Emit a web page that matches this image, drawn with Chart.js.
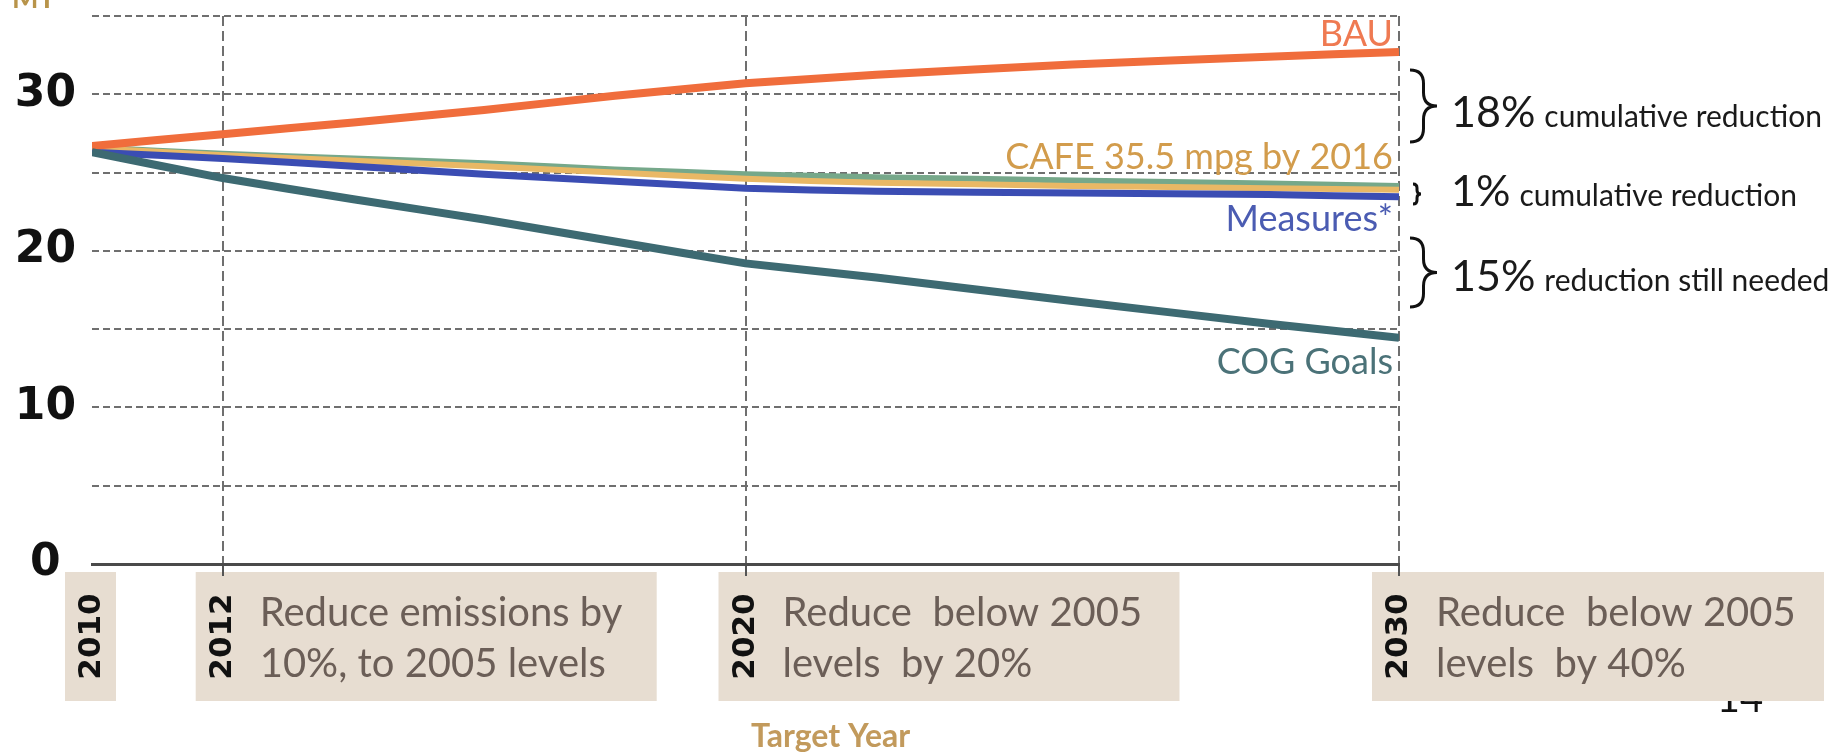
<!DOCTYPE html>
<html>
<head>
<meta charset="utf-8">
<script src="https://cdn.jsdelivr.net/npm/chart.js@4"></script>
<style>
  html, body { margin: 0; padding: 0; background: #fff; }
</style>
</head>
<body>
<canvas id="myChart" width="1839" height="754"></canvas>
<script>
// years the values were read at
const years = [2010, 2012, 2014, 2016, 2018, 2020, 2022, 2025, 2028, 2030];

const bau      = [26.7, 27.45, 28.2, 29.0, 29.9, 30.7, 31.25, 31.9, 32.4, 32.7];
const other    = [26.6, 26.2, 25.9, 25.6, 25.2, 24.9, 24.7, 24.5, 24.3, 24.15];
const cafe     = [26.55, 26.1, 25.75, 25.4, 25.0, 24.6, 24.35, 24.15, 24.0, 23.9];
const measures = [26.3, 25.9, 25.4, 24.9, 24.45, 24.0, 23.8, 23.7, 23.6, 23.45];
const cog      = [26.3, 24.65, 23.3, 22.0, 20.6, 19.2, 18.3, 16.8, 15.35, 14.45];

// x axis ticks and the target boxes under them
const tickYears = [2010, 2012, 2020, 2030];
const targetNotes = [
  [],
  ['Reduce emissions by', '10%, to 2005 levels'],
  ['Reduce  below 2005', 'levels  by 20%'],
  ['Reduce  below 2005', 'levels  by 40%']
];

// gaps on the right
const gapPercents = ['18%', '1%', '15%'];
const gapTexts = ['cumulative reduction', 'cumulative reduction', 'reduction still needed'];

function pts(arr) {
  return arr.map((v, i) => ({ x: years[i], y: v }));
}

function brace(ctx, x, y1, y2, w) {
  const ym = (y1 + y2) / 2, h = w / 2;
  const r = Math.min(h, (y2 - y1) / 4);
  ctx.beginPath();
  ctx.moveTo(x, y1);
  ctx.quadraticCurveTo(x + h, y1, x + h, y1 + r);
  ctx.lineTo(x + h, ym - r);
  ctx.quadraticCurveTo(x + h, ym, x + w, ym);
  ctx.quadraticCurveTo(x + h, ym, x + h, ym + r);
  ctx.lineTo(x + h, y2 - r);
  ctx.quadraticCurveTo(x + h, y2, x, y2);
  ctx.stroke();
}

const gridColor = '#6f6f6f';

const notesPlugin = {
  id: 'notes',
  beforeDraw(chart) {
    const ctx = chart.ctx, xs = chart.scales.x, area = chart.chartArea;
    const top = area.bottom + 8, h = 129;
    ctx.save();

    // page number, half hidden by the last box
    ctx.fillStyle = '#111';
    ctx.font = '40px Lato';
    ctx.textAlign = 'center';
    ctx.textBaseline = 'alphabetic';
    ctx.fillText('14', 1740, 712);

    tickYears.forEach((yr, i) => {
      const px = xs.getPixelForValue(yr);
      const lines = targetNotes[i];
      const left = px - 27;
      const w = lines.length ? Math.min(461, 1824 - left) : 51;
      ctx.fillStyle = '#e7ddd1';
      ctx.fillRect(left, top, w, h);

      ctx.save();
      ctx.translate(px, top + h / 2);
      ctx.rotate(-Math.PI / 2);
      ctx.font = 'bold 31px "DejaVu Sans"';
      ctx.fillStyle = '#111';
      ctx.textAlign = 'center';
      ctx.textBaseline = 'middle';
      ctx.fillText(String(yr), 0, 0);
      ctx.restore();

      ctx.font = '40px Lato';
      ctx.fillStyle = '#6b5e57';
      ctx.textAlign = 'left';
      ctx.textBaseline = 'alphabetic';
      lines.forEach((t, j) => ctx.fillText(t, px + 37, top + 54 + j * 51));
    });

    ctx.font = 'bold 32px Lato';
    ctx.fillStyle = '#c29a5c';
    ctx.textAlign = 'left';
    ctx.fillText('Target Year', 751, 747);

    // y axis unit, cut off by the top edge
    ctx.font = 'bold 28px Lato';
    ctx.fillStyle = '#b8944a';
    ctx.fillText('MT', 12, 8);
    ctx.restore();
  },
  afterDraw(chart) {
    const ctx = chart.ctx, ys = chart.scales.y, area = chart.chartArea;
    const right = area.right - 6;
    ctx.save();
    ctx.textAlign = 'right';
    ctx.textBaseline = 'alphabetic';
    ctx.font = '36px Lato';
    const labels = [
      ['BAU', '#ef7a52', bau, -6],
      ['CAFE 35.5 mpg by 2016', '#d29c4c', cafe, -21],
      ['Measures*', '#4b5cb2', measures, 34],
      ['COG Goals', '#4b7278', cog, 36]
    ];
    labels.forEach(([t, c, arr, off]) => {
      ctx.fillStyle = c;
      ctx.fillText(t, right, ys.getPixelForValue(arr[arr.length - 1]) + off);
    });

    // braces and gap text
    const bx = area.right + 11;
    ctx.strokeStyle = '#111';
    ctx.lineWidth = 3;
    brace(ctx, bx, 70, 142, 27);
    brace(ctx, bx + 3, 184, 204, 8);
    brace(ctx, bx, 238, 307, 27);

    const baselines = [127, 206, 291];
    ctx.textAlign = 'left';
    ctx.fillStyle = '#1a1a1a';
    gapPercents.forEach((p, i) => {
      ctx.font = '43px Lato';
      ctx.fillText(p, 1451, baselines[i]);
      const w = ctx.measureText(p).width;
      ctx.font = '30px Lato';
      ctx.fillText(gapTexts[i], 1451 + w + 9, baselines[i]);
    });
    ctx.restore();
  }
};

const config = {
  type: 'line',
  data: {
    datasets: [
      { label: 'COG Goals', data: pts(cog), borderColor: '#3d6a72', borderWidth: 8 },
      { label: 'BAU', data: pts(bau), borderColor: '#f06d3c', borderWidth: 8 },
      { label: 'Measures*', data: pts(measures), borderColor: '#3b4db3', borderWidth: 7 },
      { label: 'CAFE 35.5 mpg by 2016', data: pts(cafe), borderColor: '#e9b865', borderWidth: 6 },
      { label: 'other', data: pts(other), borderColor: '#76a88a', borderWidth: 6 }
    ]
  },
  options: {
    responsive: false,
    animation: false,
    elements: { point: { radius: 0 }, line: { tension: 0.1, fill: false } },
    layout: { padding: { top: 16, right: 440, left: 0, bottom: 0 } },
    plugins: { legend: { display: false }, tooltip: { enabled: false } },
    scales: {
      x: {
        type: 'linear',
        min: 2010,
        max: 2030,
        afterBuildTicks: s => { s.ticks = tickYears.map(v => ({ value: v })); },
        afterFit: s => { s.height = 190; s.paddingLeft = 0; s.paddingRight = 0; },
        ticks: { display: false },
        grid: {
          color: c => (c.tick && c.tick.value === 2010) ? 'rgba(0,0,0,0)' : gridColor,
          tickColor: c => (c.tick && c.tick.value === 2010) ? 'rgba(0,0,0,0)' : '#555',
          lineWidth: 2,
          tickWidth: 2,
          tickLength: 12
        },
        border: { display: true, color: '#4a4a4a', width: 3, dash: [10, 5] }
      },
      y: {
        min: 0,
        max: 35,
        afterFit: s => { s.width = 92; s.paddingTop = 0; s.paddingBottom = 0; },
        ticks: {
          stepSize: 5,
          callback: v => v % 10 === 0 ? String(v) : '',
          font: { family: 'DejaVu Sans', size: 44, weight: 'bold' },
          color: '#111',
          crossAlign: 'center',
          padding: 16
        },
        grid: {
          color: c => (c.tick && c.tick.value === 0) ? 'rgba(0,0,0,0)' : gridColor,
          lineWidth: 2,
          drawTicks: false
        },
        border: { display: false, dash: [7, 4] }
      }
    }
  },
  plugins: [notesPlugin]
};

const myChart = new Chart(document.getElementById('myChart'), config);
</script>
</body>
</html>
